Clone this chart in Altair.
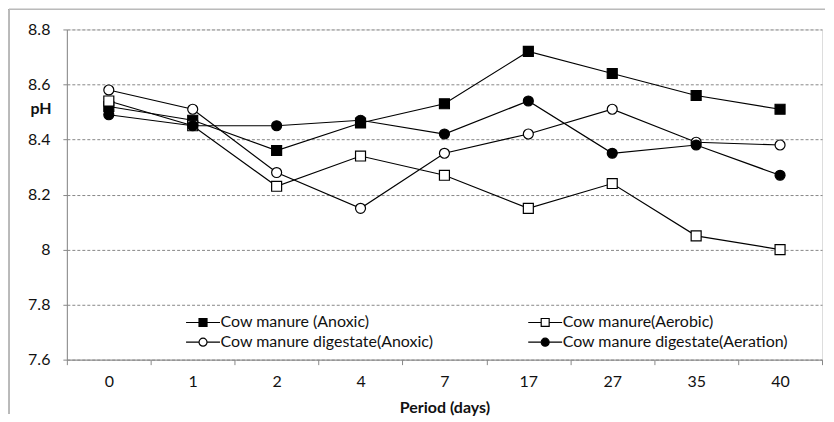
import altair as alt
import pandas as pd

days = ["0", "1", "2", "4", "7", "17", "27", "35", "40"]
series_names = [
    "Cow manure (Anoxic)",
    "Cow manure(Aerobic)",
    "Cow manure digestate(Anoxic)",
    "Cow manure digestate(Aeration)",
]
cm_anoxic = [8.52, 8.47, 8.36, 8.46, 8.53, 8.72, 8.64, 8.56, 8.51]
cm_aerobic = [8.54, 8.45, 8.23, 8.34, 8.27, 8.15, 8.24, 8.05, 8.00]
dig_anoxic = [8.58, 8.51, 8.28, 8.15, 8.35, 8.42, 8.51, 8.39, 8.38]
dig_aeration = [8.49, 8.45, 8.45, 8.47, 8.42, 8.54, 8.35, 8.38, 8.27]
y_ticks = [7.6, 7.8, 8.0, 8.2, 8.4, 8.6, 8.8]

rows = []
for name, vals in zip(series_names, [cm_anoxic, cm_aerobic, dig_anoxic, dig_aeration]):
    for d, v in zip(days, vals):
        rows.append({"day": d, "series": name, "pH": v})
df = pd.DataFrame(rows)

FONT = "Lato"
W, H = 757, 331

x_enc = alt.X(
    "day:O",
    sort=days,
    scale=alt.Scale(type="band", paddingInner=0, paddingOuter=0),
    axis=alt.Axis(
        title="Period (days)", labelAngle=0, tickBand="extent", tickSize=5,
        labelPadding=9, titlePadding=10, domainColor="#888", tickColor="#888",
        labelColor="#111", labelFontSize=16, titleFontSize=16, titleFontWeight="bold",
        titleColor="#111", grid=False,
    ),
)
y_enc = alt.Y(
    "pH:Q",
    scale=alt.Scale(domain=[7.6, 8.8], nice=False, zero=False),
    axis=alt.Axis(
        values=y_ticks, format=".2~f", title="pH", titleAngle=0, titleAlign="left",
        titleBaseline="middle", titleX=-37, titleY=79, titleFontSize=16,
        titleFontWeight="bold", titleColor="#111", labelFontSize=16, labelColor="#111",
        labelPadding=13, tickSize=4, domainColor="#888", tickColor="#888",
        grid=True, gridColor="#888", gridDash=[3, 2], gridWidth=1,
    ),
)

base = alt.Chart(df)

lines = base.mark_line(color="black", strokeWidth=1.2).encode(
    x=x_enc, y=y_enc, detail="series:N"
)

points = base.mark_point(filled=False, strokeWidth=1.2, size=100, opacity=1, stroke="black").encode(
    x=x_enc,
    y=y_enc,
    shape=alt.Shape("series:N", scale=alt.Scale(domain=series_names,
                    range=["square", "square", "circle", "circle"]), legend=None),
    fill=alt.Fill("series:N", scale=alt.Scale(domain=series_names,
                  range=["black", "white", "white", "black"]), legend=None),
)

# legend fills column by column, so order the domain to read row by row
legend_order = [series_names[0], series_names[2], series_names[1], series_names[3]]
sq = "M-2,0H-0.47M0.47,0H2M-0.47,-0.47H0.47V0.47H-0.47Z"
ci = "M-2,0H-0.47M0.47,0H2M-0.47,0A0.47,0.47 0 1,0 0.47,0A0.47,0.47 0 1,0 -0.47,0Z"
leg = alt.Legend(
    title=None, orient="none", legendX=127, legendY=284, columns=2,
    columnPadding=92, rowPadding=2, labelFontSize=16, labelColor="#111",
    labelOffset=8, symbolSize=289, symbolStrokeWidth=1.2, symbolStrokeColor="black",
    padding=0, labelLimit=400,
)
legend_layer = base.mark_point(filled=False, size=289, opacity=1).encode(
    x=x_enc,
    y=y_enc,
    shape=alt.Shape("series:N", scale=alt.Scale(domain=legend_order, range=[sq, ci, sq, ci]), legend=leg),
    fill=alt.Fill("series:N", scale=alt.Scale(domain=legend_order,
                  range=["black", "white", "white", "black"]), legend=leg),
    stroke=alt.Stroke("series:N", scale=alt.Scale(domain=legend_order,
                      range=["black", "black", "black", "black"]), legend=leg),
).transform_filter("false")

frame_left = alt.Chart(df).mark_rule(color="#bbb", strokeWidth=1).encode(
    x=alt.value(-58), x2=alt.value(-58), y=alt.value(-20), y2=alt.value(385)
)
frame_top = alt.Chart(df).mark_rule(color="#bbb", strokeWidth=1).encode(
    x=alt.value(-58), x2=alt.value(760), y=alt.value(-20), y2=alt.value(-20)
)

chart = (
    alt.layer(frame_left, frame_top, lines, points, legend_layer)
    .resolve_scale(shape="independent", fill="independent", stroke="independent")
    .properties(width=W, height=H, padding=0)
    .configure_view(stroke="#777", strokeWidth=1)
    .configure(font=FONT, background="white")
)

chart.save("out.html", embed_options={"renderer": "svg", "actions": False})
